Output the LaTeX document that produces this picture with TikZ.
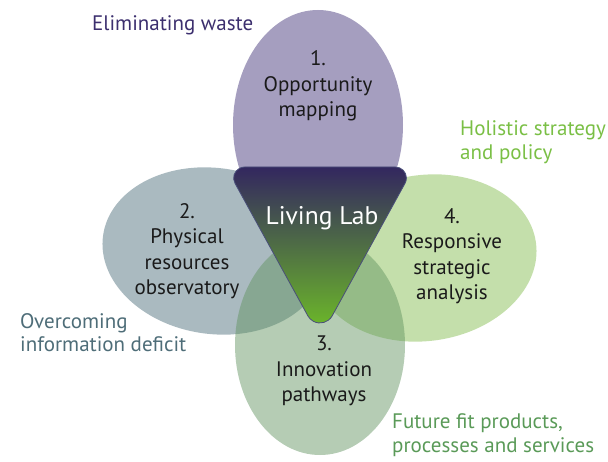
\documentclass[tikz,border=0pt]{standalone}
\usepackage{fontspec}
\setmainfont{PT Sans}
\usetikzlibrary{shapes.geometric}
\definecolor{cTop}{HTML}{A59EBF}
\definecolor{cLeft}{HTML}{AABAC0}
\definecolor{cRight}{HTML}{C4DFAB}
\definecolor{cBottom}{HTML}{61935F}
\definecolor{gTop}{HTML}{33275F}
\definecolor{gBot}{HTML}{6BB52A}
\definecolor{triEdge}{HTML}{4A4F7A}
\definecolor{tPurple}{HTML}{3C2F6E}
\definecolor{tGreen}{HTML}{7ABF45}
\definecolor{tSlate}{HTML}{4E6D78}
\definecolor{tMid}{HTML}{5A9A58}
\definecolor{tDark}{HTML}{1A1A1A}
\tikzset{
  petal/.style={ellipse, inner sep=0pt, draw=none},
  inlabel/.style={align=center, text=tDark, font=\fontsize{21}{25.5}\selectfont, inner sep=0pt},
  outlabel/.style={align=left, anchor=west, font=\fontsize{21}{24.5}\selectfont, inner sep=0pt},
}
\begin{document}
\begin{tikzpicture}[x=1pt, y=-1pt]
\useasboundingbox (0,0) rectangle (608,462);
% petals
\node[petal, fill=cTop, minimum width=170pt, minimum height=230pt] (top) at (318,125) {};
\node[petal, fill=cLeft, minimum width=224pt, minimum height=166pt, rotate=-8] (left) at (214,251) {};
\node[petal, fill=cRight, minimum width=224pt, minimum height=166pt, rotate=8] (right) at (425,258) {};
\node[petal, fill=cBottom, fill opacity=0.47, minimum width=170pt, minimum height=220pt] (bottom) at (320,345) {};
% central triangle with rounded corners
\coordinate (ttl) at (244.6,167);
\coordinate (ttr) at (395.4,167);
\coordinate (tar) at (332.2,315.8);
\coordinate (tal) at (235.0,183.3);
\shade[top color=gTop, bottom color=gBot, draw=triEdge, line width=0.8pt]
  (ttl) -- (ttr) arc[start angle=90, end angle=-28.8, radius=11pt]
  -- (tar) arc[start angle=-28.8, end angle=-151.2, radius=13.9pt]
  -- (tal) arc[start angle=208.8, end angle=90, radius=11pt] -- cycle;
\node[text=white, font=\fontsize{25.5}{30}\selectfont, inner sep=0pt] (lab) at (322,218) {Living Lab};
% petal labels
\node[inlabel] (l1) at (318,86) {1.\\Opportunity\\mapping};
\node[inlabel] (l2) at (187,251) {2.\\Physical\\resources\\observatory};
\node[inlabel] (l3) at (324,371) {3.\\Innovation\\pathways};
\node[inlabel] (l4) at (452,256) {4.\\Responsive\\strategic\\analysis};
% outer labels
\node[outlabel, text=tPurple] (o1) at (92,25) {Eliminating waste};
\node[outlabel, text=tGreen] (o4) at (460,142) {Holistic strategy\\and policy};
\node[outlabel, text=tSlate, font=\fontsize{21}{23}\selectfont] (o2) at (20,333) {Overcoming\\information deficit};
\node[outlabel, text=tMid] (o3) at (392,435) {Future fit products,\\processes and services};
\end{tikzpicture}
\end{document}
